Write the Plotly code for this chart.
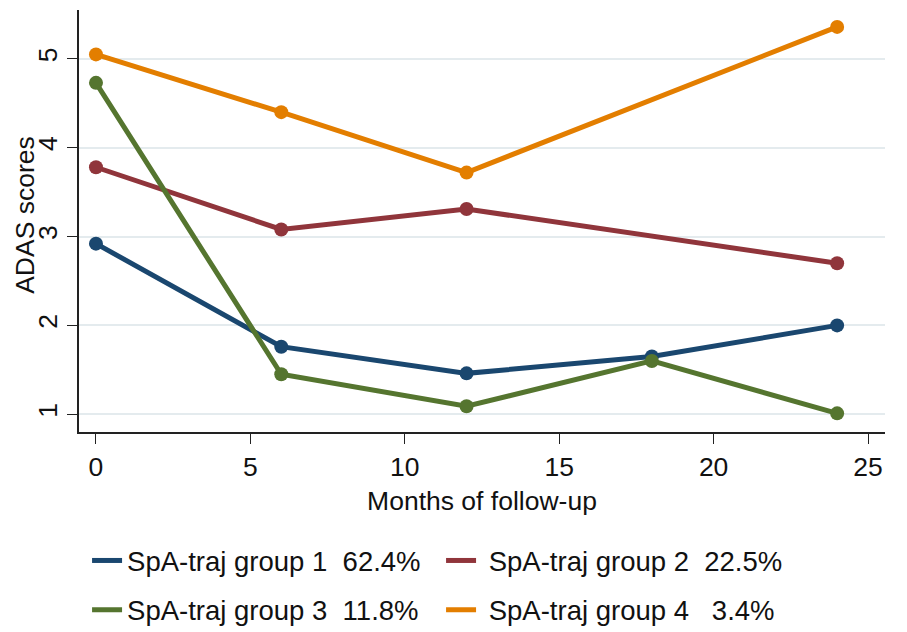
import plotly.graph_objects as go

months_g1 = [0, 6, 12, 18, 24]
adas_g1 = [2.92, 1.76, 1.46, 1.65, 2.00]
months_g2 = [0, 6, 12, 24]
adas_g2 = [3.78, 3.08, 3.31, 2.70]
months_g3 = [0, 6, 12, 18, 24]
adas_g3 = [4.73, 1.45, 1.09, 1.60, 1.01]
months_g4 = [0, 6, 12, 24]
adas_g4 = [5.05, 4.40, 3.72, 5.36]

names = ["SpA-traj group 1\u00a0\u00a062.4%", "\u00a0SpA-traj group 2\u00a0\u00a022.5%",
         "SpA-traj group 3\u00a0\u00a011.8%", "\u00a0SpA-traj group 4\u00a0\u00a0\u00a03.4%"]
colors = ["#1a476f", "#90353b", "#55752f", "#e37e00"]
xs = [months_g1, months_g2, months_g3, months_g4]
ys = [adas_g1, adas_g2, adas_g3, adas_g4]
legends = ["legend", "legend", "legend2", "legend2"]

FONT = "Liberation Sans, Arial, sans-serif"
FS = 26.5
LFS = 27.5
fig = go.Figure()
for x, y, n, c, lg in zip(xs, ys, names, colors, legends):
    fig.add_trace(go.Scatter(x=x, y=y, mode="lines", name=n, legend=lg,
                             line=dict(color=c, width=5)))
for x, y, n, c in zip(xs, ys, names, colors):
    fig.add_trace(go.Scatter(x=x, y=y, mode="markers", showlegend=False,
                             marker=dict(color=c, size=14)))

fig.update_layout(
    width=907, height=632,
    margin=dict(l=79, r=22, t=10, b=200, autoexpand=False),
    paper_bgcolor="white", plot_bgcolor="white",
    font=dict(family=FONT, size=FS, color="#111"),
    legend=dict(orientation="h", x=0.01, xanchor="left", yref="container", y=0.113, yanchor="middle",
                entrywidth=309, font=dict(size=LFS), bgcolor="rgba(0,0,0,0)"),
    legend2=dict(orientation="h", x=0.01, xanchor="left", yref="container", y=0.035, yanchor="middle",
                 entrywidth=309, font=dict(size=LFS), bgcolor="rgba(0,0,0,0)"),
    annotations=[dict(text="ADAS scores", xref="paper", yref="paper", x=-0.068, y=0.515,
                      xanchor="center", yanchor="middle", textangle=-90, showarrow=False,
                      font=dict(size=FS))],
)
fig.update_xaxes(range=[-0.55, 25.55], tickvals=[0, 5, 10, 15, 20, 25], automargin=False,
                 showgrid=False, zeroline=False, showline=True, linecolor="#222",
                 linewidth=1.5, ticks="outside", ticklen=10, tickcolor="#222",
                 tickfont=dict(size=FS), title=dict(text="Months of follow-up", font=dict(size=FS), standoff=11))
fig.update_yaxes(range=[0.8, 5.55], tickvals=[1, 2, 3, 4, 5], tickangle=-90, automargin=False,
                 showgrid=True, gridcolor="#e4ebee", gridwidth=1.5, zeroline=False,
                 showline=True, linecolor="#222", linewidth=1.5, ticks="outside",
                 ticklen=10, tickcolor="#222", tickfont=dict(size=FS))

fig.write_html("out.html", config={"displayModeBar": False},
               post_script="document.body.style.margin='0';")
